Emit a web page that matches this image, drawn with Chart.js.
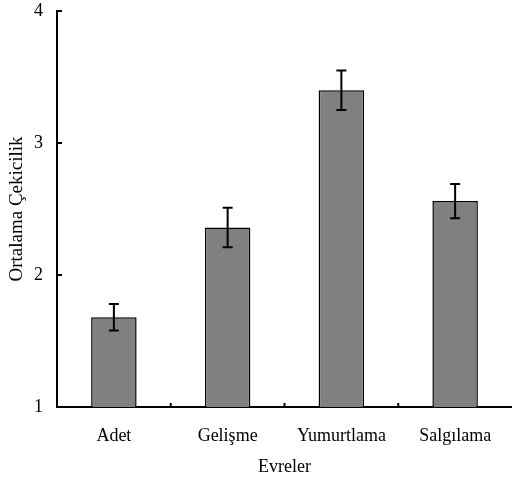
<!DOCTYPE html>
<html>
<head>
<meta charset="utf-8">
<script src="https://cdn.jsdelivr.net/npm/chart.js@4/dist/chart.umd.min.js"></script>
<style>
  html, body { margin: 0; padding: 0; background: #fff; }
  #wrap { width: 512px; height: 478px; }
</style>
</head>
<body>
<div id="wrap"><canvas id="chart"></canvas></div>
<script>
// data
const categories = ["Adet", "Gelişme", "Yumurtlama", "Salgılama"];
const means = [1.68, 2.36, 3.40, 2.56];
const errors = [0.10, 0.15, 0.15, 0.13];
const yTicks = [1, 2, 3, 4];

const fontName = "'Liberation Serif', 'Times New Roman', serif";

// error bars drawn from the y scale
const errorBars = {
  id: "errorBars",
  afterDatasetsDraw(chart) {
    const ctx = chart.ctx;
    const meta = chart.getDatasetMeta(0);
    const y = chart.scales.y;
    ctx.save();
    ctx.strokeStyle = "#000";
    ctx.lineWidth = 2;
    meta.data.forEach((bar, i) => {
      const x = bar.x;
      const top = y.getPixelForValue(means[i] + errors[i]);
      const bot = y.getPixelForValue(means[i] - errors[i]);
      ctx.beginPath();
      ctx.moveTo(x, top);
      ctx.lineTo(x, bot);
      ctx.moveTo(x - 5, top);
      ctx.lineTo(x + 5, top);
      ctx.moveTo(x - 5, bot);
      ctx.lineTo(x + 5, bot);
      ctx.stroke();
    });
    ctx.restore();
  }
};

// tick marks pointing inwards
const innerTicks = {
  id: "innerTicks",
  afterDraw(chart) {
    const ctx = chart.ctx;
    const area = chart.chartArea;
    const x = chart.scales.x;
    const y = chart.scales.y;
    ctx.save();
    ctx.strokeStyle = "#000";
    ctx.lineWidth = 2;
    ctx.beginPath();
    yTicks.forEach((t) => {
      const py = y.getPixelForValue(t);
      ctx.moveTo(area.left, py);
      ctx.lineTo(area.left + 5, py);
    });
    for (let i = 1; i < categories.length; i++) {
      const px = (x.getPixelForValue(i - 1) + x.getPixelForValue(i)) / 2;
      ctx.moveTo(px, area.bottom);
      ctx.lineTo(px, area.bottom - 4);
    }
    ctx.stroke();
    ctx.restore();
  }
};

new Chart(document.getElementById("chart"), {
  type: "bar",
  data: {
    labels: categories,
    datasets: [
      {
        data: means,
        backgroundColor: "#808080",
        borderColor: "#000",
        borderWidth: 1.5,
        barPercentage: 0.4,
        categoryPercentage: 1,
        base: 1,
      },
    ],
  },
  options: {
    responsive: true,
    maintainAspectRatio: false,
    animation: false,
    layout: { padding: { top: 11, right: 0, left: 0, bottom: 0 } },
    plugins: {
      legend: { display: false },
      tooltip: { enabled: false },
    },
    scales: {
      x: {
        grid: { display: false, drawTicks: false },
        border: { display: true, color: "#000", width: 2 },
        ticks: { color: "#000", padding: 18, font: { family: fontName, size: 18 } },
        title: {
          display: true,
          text: "Evreler",
          color: "#000",
          padding: { top: 0, bottom: 0 },
          font: { family: fontName, size: 18 },
        },
        afterFit(scale) {
          scale.height = 71;
          scale.paddingLeft = 0;
          scale.paddingRight = 0;
        },
      },
      y: {
        min: 1,
        max: 4,
        afterBuildTicks(scale) {
          scale.ticks = yTicks.map((v) => ({ value: v }));
        },
        grid: { display: false, drawTicks: false },
        border: { display: true, color: "#000", width: 2 },
        ticks: { color: "#000", padding: 14, font: { family: fontName, size: 18 } },
        title: {
          display: true,
          text: "Ortalama Çekicilik",
          color: "#000",
          padding: { top: 6, bottom: 0 },
          font: { family: fontName, size: 19 },
        },
        afterFit(scale) {
          scale.width = 57;
          scale.paddingTop = 0;
          scale.paddingBottom = 0;
        },
      },
    },
  },
  plugins: [errorBars, innerTicks],
});
</script>
</body>
</html>
